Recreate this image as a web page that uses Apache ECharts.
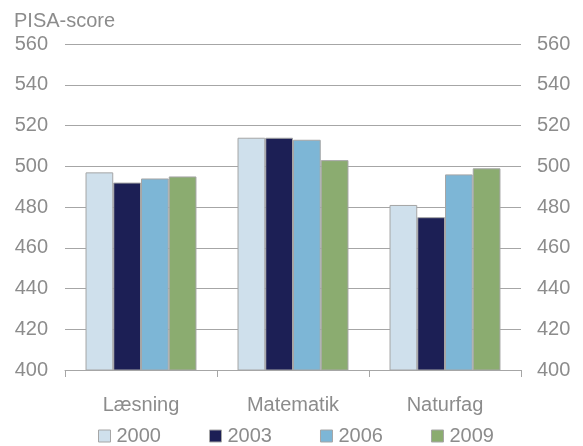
<!DOCTYPE html>
<html>
<head>
<meta charset="utf-8">
<script src="https://cdn.jsdelivr.net/npm/echarts@6/dist/echarts.min.js"></script>
<style>
  html, body { margin: 0; padding: 0; background: #fff; }
  #pisaChart { width: 583px; height: 446px; }
</style>
</head>
<body>
<div id="pisaChart"></div>
<script>
  // PISA-resultater, Danmark
  var categories = ['Læsning', 'Matematik', 'Naturfag']
  var years = ['2000', '2003', '2006', '2009']
  var score2000 = [497, 514, 481]
  var score2003 = [492, 514, 475]
  var score2006 = [494, 513, 496]
  var score2009 = [495, 503, 499]
  var yTicks = { min: 400, max: 560, interval: 20 }

  var colors = ['#cfe0ec', '#1c1f55', '#7db6d6', '#8bac70']
  var textGray = '#8c8c8c'
  var lineGray = '#a6a6a6'
  var font = 'Liberation Sans, Arial, sans-serif'

  var seriesData = [score2000, score2003, score2006, score2009]

  var pisaChart = echarts.init(document.getElementById('pisaChart'))

  var series = []
  for (let i = 0; i < years.length; i++) {
    series.push({
      name: years[i],
      type: 'bar',
      barGap: 0,
      barCategoryGap: '27%',
      itemStyle: {
        color: colors[i],
        borderColor: lineGray,
        borderWidth: 1
      },
      data: seriesData[i]
    })
  }

  function yAxisConf(pos) {
    return {
      type: 'value',
      position: pos,
      min: yTicks.min,
      max: yTicks.max,
      interval: yTicks.interval,
      axisLine: { show: false },
      axisTick: { show: false },
      axisLabel: {
        color: textGray,
        fontSize: 20,
        fontFamily: font,
        margin: pos === 'left' ? 17 : 16
      },
      splitLine: {
        show: pos === 'left',
        lineStyle: { color: lineGray, width: 1 }
      }
    }
  }

  var option = {
    animation: false,
    color: colors,
    title: {
      text: 'PISA-score',
      left: 9,
      top: 6,
      textStyle: {
        color: textGray,
        fontSize: 20,
        fontWeight: 'normal',
        fontFamily: font
      }
    },
    grid: {
      left: 65,
      right: 62,
      top: 44,
      bottom: 76,
      containLabel: false
    },
    legend: {
      data: years,
      left: 93,
      top: 421,
      itemWidth: 12,
      itemHeight: 12,
      itemGap: 48,
      icon: 'rect',
      itemStyle: { borderColor: lineGray, borderWidth: 1 },
      textStyle: {
        color: textGray,
        fontSize: 20,
        fontFamily: font,
        padding: [0, 0, 0, 1]
      }
    },
    xAxis: {
      type: 'category',
      data: categories,
      axisLine: { lineStyle: { color: lineGray, width: 1 } },
      axisTick: { show: true, length: 7, lineStyle: { color: lineGray } },
      axisLabel: {
        color: textGray,
        fontSize: 20,
        fontFamily: font,
        margin: 25
      }
    },
    yAxis: [yAxisConf('left'), yAxisConf('right')],
    series: series
  }

  pisaChart.setOption(option)
</script>
</body>
</html>
